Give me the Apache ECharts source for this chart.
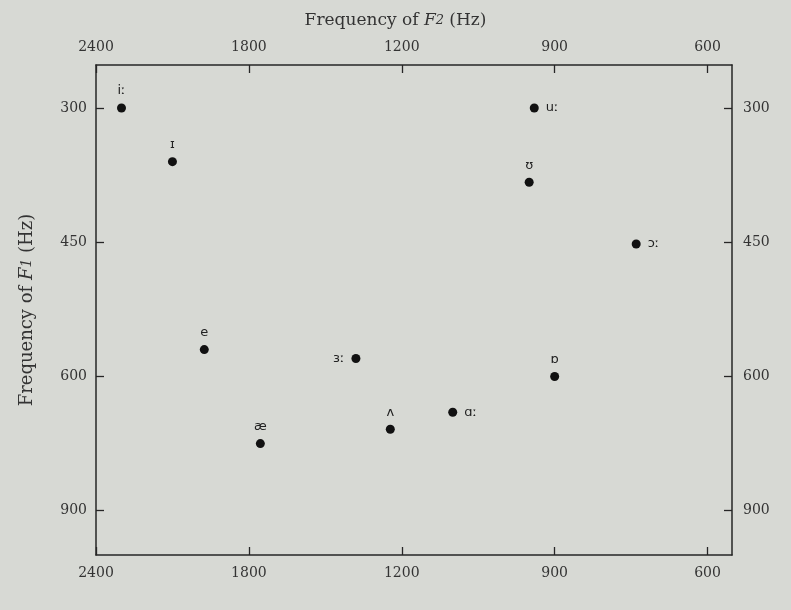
<!DOCTYPE html>
<html>
<head>
<meta charset="utf-8">
<script src="https://cdn.jsdelivr.net/npm/echarts@6/dist/echarts.min.js"></script>
<style>
  html, body { margin: 0; padding: 0; background: #d7d9d4; }
  #chart { width: 791px; height: 610px; }
</style>
</head>
<body>
<div id="chart"></div>
<script>
// vowel formant values (Hz)
const vowels = ['iː', 'ɪ', 'e', 'æ', 'ɜː', 'ʌ', 'ɑː', 'uː', 'ʊ', 'ɔː', 'ɒ'];
const f2 = [2300, 2100, 1975, 1755, 1380, 1245, 1100, 940, 950, 740, 900];
const f1 = [300, 360, 570, 750, 580, 718, 680, 300, 383, 452, 600];

// tick labels (evenly spaced on the printed chart)
const f2Ticks = [2400, 1800, 1200, 900, 600];
const f1Ticks = [300, 450, 600, 900];

// which side the vowel symbol sits on
const labelSide = { 'ɜː': 'left', 'uː': 'right', 'ɑː': 'right', 'ɔː': 'right' };

// map Hz onto the chart's tick scale (linear between printed ticks)
function toPos(hz, ticks) {
  for (let i = 0; i < ticks.length - 1; i++) {
    const a = ticks[i], b = ticks[i + 1];
    if ((hz - a) * (hz - b) <= 0) return i + (hz - a) / (b - a);
  }
  return 0;
}

const ink = '#262626';
const font = 'DejaVu Serif';

const axisCommon = {
  type: 'value',
  axisLine: { show: true, onZero: false, lineStyle: { color: ink, width: 1.5 } },
  axisTick: { show: true, inside: true, length: 8, lineStyle: { color: ink, width: 1.3 } },
  splitLine: { show: false }
};

function xAxis(pos) {
  return Object.assign({}, axisCommon, {
    position: pos,
    min: 0,
    max: 4.16,
    axisTick: Object.assign({}, axisCommon.axisTick, { customValues: [0, 1, 2, 3, 4] }),
    axisLabel: {
      customValues: [0, 1, 2, 3, 4],
      formatter: v => f2Ticks[Math.round(v)],
      color: '#333', fontFamily: font, fontSize: 14, margin: pos === 'top' ? 11 : 11
    }
  });
}

function yAxis(pos) {
  return Object.assign({}, axisCommon, {
    position: pos,
    inverse: true,
    min: -0.32,
    max: 3.33,
    axisTick: Object.assign({}, axisCommon.axisTick, { customValues: [0, 1, 2, 3] }),
    axisLabel: {
      customValues: [0, 1, 2, 3],
      formatter: v => f1Ticks[Math.round(v)],
      color: '#333', fontFamily: font, fontSize: 14, margin: pos === 'left' ? 9 : 11
    }
  });
}

const points = vowels.map((v, i) => ({
  value: [toPos(f2[i], f2Ticks), toPos(f1[i], f1Ticks)],
  label: {
    show: true,
    formatter: v,
    position: labelSide[v] || 'top',
    distance: labelSide[v] ? 7 : 6
  }
}));

function titleRich(size) {
  return {
    a: { fontFamily: font, fontSize: size, color: '#333' },
    i: { fontFamily: font, fontSize: size, fontStyle: 'italic', color: '#333' },
    s: { fontFamily: font, fontSize: size - 4, fontStyle: 'italic', color: '#333' }
  };
}

const chart = echarts.init(document.getElementById('chart'));
chart.setOption({
  backgroundColor: '#d7d9d4',
  animation: false,
  title: {
    text: '{a|Frequency of }{i|F}{s|2}{a| (Hz)}',
    left: 'center',
    top: 7,
    textStyle: { fontWeight: 'normal', rich: titleRich(17) }
  },
  grid: { left: 96, right: 59, top: 65, bottom: 55 },
  xAxis: [xAxis('bottom'), xAxis('top')],
  yAxis: [
    Object.assign(yAxis('left'), {
      name: '{a|Frequency of }{i|F}{s|1}{a| (Hz)}',
      nameLocation: 'middle',
      nameGap: 60,
      nameRotate: 90,
      nameTextStyle: { rich: titleRich(18) }
    }),
    yAxis('right')
  ],
  series: [{
    type: 'scatter',
    symbol: 'circle',
    symbolSize: 9,
    itemStyle: { color: '#111', opacity: 1 },
    label: { color: '#222', fontFamily: 'DejaVu Sans', fontSize: 13 },
    data: points
  }]
});
</script>
</body>
</html>
